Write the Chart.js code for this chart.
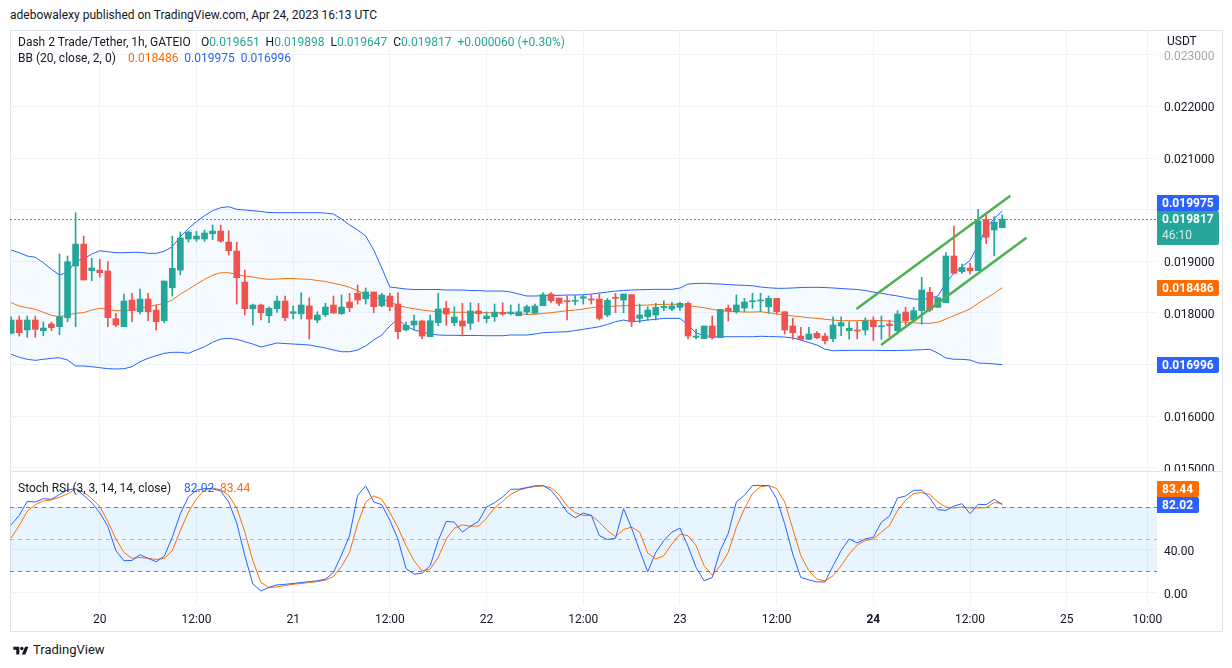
<!DOCTYPE html>
<html>
<head>
<meta charset="utf-8">
<title>Dash 2 Trade/Tether, 1h, GATEIO</title>
<script src="https://cdn.jsdelivr.net/npm/chart.js@4.4.1/dist/chart.umd.min.js"></script>
<style>
  body { margin: 0; background: #fff; font-family: Roboto, "Noto Sans", sans-serif; color: #131722; }
  #page { position: relative; width: 1232px; height: 668px; overflow: hidden; }
  .abs { position: absolute; white-space: nowrap; font-size: 12px; line-height: 16px; z-index: 2; }
  #frame { position: absolute; left: 10px; top: 30px; width: 1213px; height: 602px; border: 1px solid #e0e3eb; box-sizing: border-box; }
  #sep { position: absolute; left: 10px; top: 471px; width: 1213px; height: 1px; background: #e0e3eb; z-index: 1; }
  canvas { position: absolute; left: 10px; }
  .up { color: #26a69a; }
  .blue { color: #2962ff; }
  .orange { color: #ff6d00; }
</style>
</head>
<body>
<div id="page">
  <div class="abs" style="left:10px;top:7px">adebowalexy published on TradingView.com, Apr 24, 2023 16:13 UTC</div>
  <div id="frame"></div>
  <canvas id="main" width="1212" height="442" style="top:30px"></canvas>
  <canvas id="stoch" width="1212" height="159" style="top:472px"></canvas>
  <div id="sep"></div>

  <div class="abs" style="left:18px;top:34px">Dash 2 Trade/Tether, 1h, GATEIO</div>
  <div class="abs" id="ohlc" style="left:201px;top:34px"></div>
  <div class="abs" style="left:18px;top:50px">BB (20, close, 2, 0)</div>
  <div class="abs" id="bbLegend" style="left:128px;top:50px"></div>
  <div class="abs" style="left:1167px;top:33px">USDT</div>
  <div class="abs" style="left:18px;top:480px">Stoch RSI (3, 3, 14, 14, close)</div>
  <div class="abs" id="stochLegend" style="left:184px;top:480px"></div>

  <svg class="abs" style="left:12px;top:645px" width="18" height="12" viewBox="0 0 36 28">
    <path d="M14 22H7V11H0V4h14v18zM28 22h-8l7.5-18h8L28 22z" fill="#131722"/>
    <circle cx="20" cy="8" r="4" fill="#131722"/>
  </svg>
  <div class="abs" style="left:33px;top:642px;font-size:13px">TradingView</div>
</div>

<script>
// hourly candles, Apr 19 13:00 .. Apr 24 16:00 UTC (hours counted from Apr 20 00:00)
const firstHour = -11;

const open = [
  .017603, .017860, .017667, .017860, .017653, .017783, .017731, .017905, .018907, .019333,
  .018816, .018829, .018810, .017886, .017731, .018248, .018021, .018267, .018054, .017847,
  .018486, .018829, .019430, .019430, .019430, .019533, .019585, .019372, .019198, .018597,
  .018079, .018151, .017944, .018079, .018229, .017990, .017983, .018132, .017860, .017963,
  .018151, .017983, .018209, .018378, .018273, .018403, .018137, .018326, .018170, .017667,
  .017764, .017841, .017537, .017808, .018087, .017808, .017841, .017796, .018035, .017886,
  .017924, .018010, .017990, .017944, .018015, .017990, .018137, .018364, .018287, .018234,
  .018223, .018281, .018267, .018267, .017957, .018300, .018248, .018351, .017893, .017924,
  .017957, .018099, .018074, .018106, .018184, .017525, .017498, .017744, .017517, .018087,
  .018021, .018093, .018215, .018229, .018118, .018281, .018021, .017744, .017550, .017486,
  .017603, .017550, .017498, .017744, .017653, .017667, .017667, .017847, .017731, .017783,
  .017653, .018015, .017860, .018041, .018397, .018106, .018196, .019101, .018797, .018868,
  .018816, .019812, .019605, .019651
];
const high = [
  .017924, .017938, .017938, .017938, .017822, .017822, .019139, .019101, .019940, .019488,
  .019056, .019037, .018990, .017990, .018364, .018378, .018461, .018378, .018151, .018616,
  .019488, .019566, .019585, .019579, .019605, .019702, .019702, .019591, .019366, .018829,
  .018170, .018170, .018118, .018326, .018326, .018132, .018390, .018293, .018021, .018184,
  .018326, .018345, .018378, .018539, .018481, .018403, .018378, .018378, .018390, .017822,
  .017957, .017860, .017957, .018378, .018223, .018118, .018184, .018196, .018184, .018015,
  .018170, .018196, .018151, .018170, .018151, .018170, .018390, .018390, .018287, .018331,
  .018339, .018351, .018351, .018364, .018281, .018378, .018364, .018351, .018170, .018118,
  .018184, .018234, .018203, .018203, .018215, .017680, .017744, .017938, .018068, .018151,
  .018345, .018281, .018378, .018378, .018326, .018281, .018021, .017893, .017719, .017719,
  .017634, .017603, .017924, .017924, .017828, .017828, .017905, .017924, .017938, .017860,
  .018041, .018106, .018106, .018688, .018494, .018293, .019165, .019682, .018946, .018959,
  .020006, .019895, .019862, .019898
];
const low = [
  .017589, .017550, .017525, .017525, .017556, .017653, .017575, .017828, .017731, .018636,
  .018622, .018688, .017731, .017731, .017731, .017828, .017977, .017847, .017667, .017808,
  .018326, .018733, .019372, .019386, .019386, .019417, .019366, .019120, .018170, .017957,
  .017764, .017860, .017808, .018010, .017847, .017880, .017880, .017492, .017808, .017924,
  .017990, .017971, .018021, .018170, .018170, .018002, .018118, .018041, .017492, .017647,
  .017667, .017498, .017537, .017750, .017758, .017750, .017550, .017680, .017828, .017808,
  .017835, .017952, .017957, .017944, .017963, .017990, .018137, .018196, .018137, .017860,
  .018151, .018170, .018170, .017860, .017924, .018002, .018002, .017731, .017808, .017860,
  .017860, .018041, .018041, .018041, .017492, .017492, .017498, .017492, .017517, .017841,
  .017990, .018021, .018087, .018021, .017990, .017977, .017589, .017486, .017473, .017486,
  .017498, .017395, .017440, .017556, .017492, .017492, .017570, .017459, .017486, .017537,
  .017589, .017764, .017847, .017783, .018021, .018106, .018196, .018765, .018765, .018752,
  .018816, .019347, .019107, .019647
];
const close = [
  .017860, .017614, .017860, .017680, .017705, .017711, .017924, .018990, .019333, .018636,
  .018868, .018777, .017905, .017764, .018229, .018041, .018267, .018021, .017828, .018616,
  .018862, .019450, .019566, .019488, .019547, .019585, .019391, .019203, .018680, .018079,
  .018151, .018002, .018087, .018229, .017905, .018021, .018151, .017880, .017957, .018112,
  .017996, .018112, .018099, .018248, .018403, .018118, .018345, .018118, .017634, .017758,
  .017841, .017550, .017847, .018074, .017977, .017919, .017744, .018035, .017983, .017938,
  .018015, .017977, .018015, .018021, .018118, .018132, .018351, .018234, .018184, .018215,
  .018242, .018312, .018248, .017893, .018242, .018281, .018364, .017828, .017957, .018054,
  .018106, .018126, .018132, .018184, .017550, .017550, .017744, .017517, .018068, .018035,
  .018151, .018209, .018234, .018248, .018281, .018021, .017667, .017614, .017486, .017589,
  .017517, .017459, .017764, .017808, .017700, .017647, .017841, .017731, .017744, .017750,
  .017977, .017847, .018041, .018442, .018054, .018293, .019101, .018765, .018882, .018816,
  .019785, .019463, .019757, .019817
];

// Bollinger Bands (20, close, 2)
const bbUpper = [
  .019217, .019165, .019101, .019076, .018971, .018843, .018733, .018785, .019004, .019043,
  .019139, .019203, .019184, .019165, .019165, .019172, .019172, .019153, .019153, .019192,
  .019281, .019475, .019637, .019765, .019882, .019979, .020037, .020056, .020006, .019992,
  .019979, .019963, .019944, .019940, .019940, .019940, .019940, .019940, .019940, .019934,
  .019915, .019818, .019702, .019605, .019488, .019217, .018868, .018500, .018481, .018461,
  .018452, .018452, .018452, .018452, .018442, .018442, .018442, .018432, .018432, .018422,
  .018422, .018422, .018403, .018364, .018326, .018326, .018331, .018335, .018339, .018345,
  .018345, .018351, .018364, .018384, .018403, .018422, .018432, .018442, .018448, .018452,
  .018455, .018455, .018455, .018481, .018558, .018568, .018572, .018564, .018558, .018548,
  .018539, .018533, .018525, .018500, .018486, .018475, .018475, .018481, .018490, .018494,
  .018494, .018490, .018481, .018471, .018461, .018452, .018432, .018403, .018378, .018351,
  .018326, .018296, .018267, .018262, .018281, .018326, .018577, .018771, .018897, .019014,
  .019314, .019643, .019828, .019975
];
const bbBasis = [
  .018196, .018132, .018099, .018068, .018010, .017952, .017924, .017957, .017990, .018002,
  .018054, .018087, .018068, .018041, .018041, .018054, .018087, .018118, .018151, .018184,
  .018248, .018364, .018455, .018552, .018649, .018727, .018777, .018777, .018746, .018713,
  .018694, .018665, .018649, .018655, .018665, .018665, .018655, .018649, .018626, .018607,
  .018572, .018539, .018494, .018428, .018359, .018312, .018262, .018209, .018145, .018106,
  .018079, .018054, .018035, .018021, .018015, .018010, .018010, .018010, .018010, .018002,
  .018002, .018002, .017990, .017977, .017971, .017971, .017990, .018002, .018021, .018041,
  .018054, .018074, .018099, .018118, .018118, .018132, .018137, .018145, .018145, .018151,
  .018157, .018165, .018165, .018165, .018137, .018118, .018099, .018068, .018041, .018029,
  .018021, .018015, .018015, .018021, .018002, .017977, .017957, .017938, .017924, .017905,
  .017893, .017874, .017860, .017847, .017847, .017847, .017855, .017855, .017847, .017841,
  .017828, .017816, .017808, .017796, .017796, .017816, .017880, .017944, .018010, .018074,
  .018184, .018281, .018378, .018486
];
const bbLower = [
  .017196, .017138, .017099, .017079, .017099, .017118, .017130, .017085, .016969, .016969,
  .016955, .016936, .016917, .016911, .016917, .016955, .017052, .017118, .017169, .017215,
  .017234, .017234, .017215, .017279, .017343, .017428, .017492, .017506, .017486, .017440,
  .017395, .017337, .017376, .017415, .017405, .017395, .017386, .017376, .017347, .017318,
  .017279, .017246, .017246, .017279, .017357, .017473, .017570, .017744, .017880, .017744,
  .017667, .017628, .017589, .017570, .017564, .017564, .017560, .017560, .017560, .017556,
  .017556, .017556, .017570, .017570, .017570, .017589, .017614, .017622, .017628, .017634,
  .017657, .017680, .017705, .017731, .017773, .017828, .017860, .017828, .017841, .017860,
  .017874, .017893, .017893, .017893, .017764, .017608, .017560, .017537, .017537, .017537,
  .017537, .017537, .017537, .017545, .017541, .017537, .017531, .017512, .017473, .017424,
  .017376, .017293, .017265, .017269, .017273, .017273, .017273, .017273, .017269, .017269,
  .017269, .017273, .017279, .017285, .017293, .017221, .017124, .017099, .017099, .017085,
  .017027, .017021, .017008, .016996
];

// Stoch RSI (3, 3, 14, 14, close)
const stochK = [
  63.4, 72.2, 85.3, 84.7, 87.8, 87.2, 91.6, 95.9, 97.2, 90.9,
  84.1, 74.7, 61.9, 39.4, 30.0, 30.3, 35.6, 32.2, 29.1, 34.1,
  51.9, 73.8, 89.4, 95.6, 97.2, 96.9, 95.0, 84.7, 65.0, 34.7,
  8.4, 1.9, 5.3, 7.5, 8.1, 8.8, 9.7, 10.6, 11.3, 12.8,
  19.1, 35.3, 53.4, 90.9, 99.7, 84.7, 82.2, 67.5, 50.3, 22.8,
  17.5, 18.4, 25.3, 48.8, 66.6, 65.9, 56.6, 62.2, 66.6, 80.0,
  84.1, 89.4, 96.6, 96.6, 98.1, 99.7, 100, 95.6, 86.3, 75.3,
  70.0, 74.4, 72.2, 53.4, 49.7, 51.0, 78.4, 60.3, 39.4, 19.7,
  37.8, 48.8, 56.6, 60.3, 43.4, 23.8, 11.3, 14.4, 39.4, 55.6,
  84.7, 90.9, 100, 100, 100, 87.8, 64.4, 36.2, 14.4, 12.2,
  10.3, 10.3, 25.3, 39.4, 50.3, 46.6, 50.3, 51.9, 65.9, 71.6,
  88.4, 90.3, 95.6, 95.6, 88.4, 77.5, 76.9, 80.9, 83.1, 73.8,
  82.5, 82.2, 87.2, 82.02
];
const stochD = [
  51.2, 62.8, 76.0, 82.2, 85.6, 86.6, 89.1, 92.2, 96.6, 94.1,
  87.8, 80.6, 66.6, 50.3, 37.8, 32.2, 33.1, 32.2, 31.2, 32.2,
  39.4, 58.1, 75.3, 87.8, 95.9, 97.8, 95.9, 90.9, 79.1, 56.6,
  30.0, 9.7, 5.0, 5.6, 6.9, 8.1, 8.8, 9.7, 10.6, 11.9,
  15.3, 24.7, 37.8, 64.4, 84.7, 90.3, 87.2, 74.7, 61.2, 44.1,
  30.0, 20.6, 22.2, 33.1, 50.3, 60.3, 63.4, 62.2, 62.2, 69.7,
  79.1, 85.3, 91.9, 95.6, 97.8, 99.1, 99.7, 97.8, 91.6, 80.9,
  74.7, 72.2, 72.2, 65.9, 58.1, 52.5, 59.1, 61.3, 56.6, 37.2,
  31.6, 34.7, 45.6, 54.7, 53.4, 44.1, 25.3, 16.6, 25.3, 37.8,
  61.2, 78.4, 92.5, 98.8, 100, 97.2, 84.7, 59.7, 34.7, 20.6,
  12.8, 11.3, 16.0, 25.3, 36.2, 44.7, 48.8, 50.3, 56.6, 62.8,
  76.9, 86.3, 92.5, 93.4, 91.6, 84.7, 80.0, 79.1, 80.0, 79.1,
  79.1, 79.4, 84.1, 83.44
];
const stochLevels = [80, 50, 20];

// hand-drawn channel (hour, price)
const channelTop = [{ x: 93.9, y: 0.018074 }, { x: 113.0, y: 0.020269 }];
const channelBottom = [{ x: 96.95, y: 0.017376 }, { x: 115.0, y: 0.019455 }];

// time axis
const tickHours = [0, 12, 24, 36, 48, 60, 72, 84, 96, 108, 120, 130];
const tickLabels = ['20', '12:00', '21', '12:00', '22', '12:00', '23', '12:00', '24', '12:00', '25', '10:00'];
const priceTicks = [0.015, 0.016, 0.017, 0.018, 0.019, 0.020, 0.021, 0.022, 0.023];
const stochTicks = [0, 40, 80];
const countdown = '46:10';

const up = '#26a69a', down = '#ef5350', blue = '#2962ff', orange = '#ff6d00', grid = '#f0f3fa';
const hourMin = -11.14, hourMax = 131.2;
const last = close.length - 1;
const hours = close.map((_, i) => firstHour + i);

Chart.defaults.font.family = 'Roboto, "Noto Sans", sans-serif';
Chart.defaults.font.size = 12;
Chart.defaults.color = '#131722';

// legends
const chg = close[last] - close[last - 1];
document.getElementById('ohlc').innerHTML =
  'O<span class="up">' + open[last].toFixed(6) + '</span>&nbsp;&nbsp;' +
  'H<span class="up">' + high[last].toFixed(6) + '</span>&nbsp;&nbsp;' +
  'L<span class="up">' + low[last].toFixed(6) + '</span>&nbsp;&nbsp;' +
  'C<span class="up">' + close[last].toFixed(6) + '</span>&nbsp;&nbsp;' +
  '<span class="up">+' + chg.toFixed(6) + ' (+' + (chg / close[last - 1] * 100).toFixed(2) + '%)</span>';
document.getElementById('bbLegend').innerHTML =
  '<span class="orange">' + bbBasis[last].toFixed(6) + '</span>&nbsp;&nbsp;' +
  '<span class="blue">' + bbUpper[last].toFixed(6) + '</span>&nbsp;&nbsp;' +
  '<span class="blue">' + bbLower[last].toFixed(6) + '</span>';
document.getElementById('stochLegend').innerHTML =
  '<span class="blue">' + stochK[last].toFixed(2) + '</span>&nbsp;&nbsp;' +
  '<span class="orange">' + stochD[last].toFixed(2) + '</span>';

function fitScale(w, h) {
  return s => {
    if (w != null) s.width = w;
    if (h != null) s.height = h;
    s.paddingTop = s.paddingBottom = s.paddingLeft = s.paddingRight = 0;
  };
}
function setTicks(values) {
  return s => { s.ticks = values.map(v => ({ value: v })); };
}
const candleColor = ctx => close[ctx.dataIndex] >= open[ctx.dataIndex] ? up : down;

// axis tags (price labels on the right scale)
function tagPlugin(id, digits, getTags) {
  return {
    id,
    afterDraw(chart) {
      const { ctx, chartArea: a, scales: { y } } = chart;
      const tags = getTags().map(t => ({ ...t, py: y.getPixelForValue(t.value) }))
        .sort((p, q) => q.py - p.py);
      let limit = Infinity;
      ctx.save();
      ctx.textBaseline = 'middle';
      for (const t of tags) {
        const h = t.sub ? 34 : 16;
        let top = Math.round(t.py) - 8;
        if (top + h > limit) top = limit - h;
        limit = top;
        const label = t.value.toFixed(digits);
        ctx.font = 'bold 12px Roboto';
        const w = Math.ceil(ctx.measureText(label).width) + 10;
        ctx.fillStyle = t.color;
        ctx.beginPath();
        ctx.roundRect(a.right, top, w, h, [0, 2, 2, 0]);
        ctx.fill();
        ctx.fillStyle = '#fff';
        ctx.fillText(label, a.right + 5, top + 8.5);
        if (t.sub) {
          ctx.font = '12px Roboto';
          ctx.fillStyle = 'rgba(255,255,255,0.8)';
          ctx.fillText(t.sub, a.right + 5, top + 25);
        }
      }
      ctx.restore();
    }
  };
}

const priceLine = {
  id: 'priceLine',
  beforeDatasetsDraw(chart) {
    const { ctx, chartArea: a, scales: { y } } = chart;
    const py = Math.round(y.getPixelForValue(close[last])) + 0.5;
    ctx.save();
    ctx.strokeStyle = up;
    ctx.lineWidth = 1;
    ctx.setLineDash([2, 2]);
    ctx.beginPath();
    ctx.moveTo(a.left, py);
    ctx.lineTo(a.right, py);
    ctx.stroke();
    ctx.restore();
  }
};

// Price chart
new Chart(document.getElementById('main'), {
  type: 'bar',
  data: {
    datasets: [
      {
        type: 'line', label: 'Upper', order: 3,
        data: hours.map((h, i) => ({ x: h, y: bbUpper[i] })),
        borderColor: blue, borderWidth: 1, pointRadius: 0,
        fill: 2, backgroundColor: 'rgba(33,150,243,0.05)'
      },
      {
        type: 'line', label: 'Basis', order: 3,
        data: hours.map((h, i) => ({ x: h, y: bbBasis[i] })),
        borderColor: orange, borderWidth: 1, pointRadius: 0, fill: false
      },
      {
        type: 'line', label: 'Lower', order: 3,
        data: hours.map((h, i) => ({ x: h, y: bbLower[i] })),
        borderColor: blue, borderWidth: 1, pointRadius: 0, fill: false
      },
      {
        label: 'Wick', order: 2, grouped: false,
        data: hours.map((h, i) => ({ x: h, y: [low[i], high[i]] })),
        backgroundColor: candleColor, barThickness: 1
      },
      {
        label: 'Body', order: 1, grouped: false,
        data: hours.map((h, i) => ({ x: h, y: [open[i], close[i]] })),
        backgroundColor: candleColor, barThickness: 6, minBarLength: 1
      },
      {
        type: 'line', label: 'Channel top', order: 0,
        data: channelTop, borderColor: '#4caf50', borderWidth: 2.5, pointRadius: 0
      },
      {
        type: 'line', label: 'Channel bottom', order: 0,
        data: channelBottom, borderColor: '#4caf50', borderWidth: 2.5, pointRadius: 0
      }
    ]
  },
  options: {
    responsive: false,
    animation: false,
    devicePixelRatio: 1,
    layout: { padding: 0 },
    plugins: { legend: { display: false }, tooltip: { enabled: false } },
    scales: {
      x: {
        type: 'linear', min: hourMin, max: hourMax, offset: false,
        afterBuildTicks: setTicks(tickHours), afterFit: fitScale(null, 0),
        ticks: { display: false },
        grid: { color: grid, drawTicks: false, offset: false },
        border: { display: false }
      },
      y: {
        position: 'right',
        min: 0.014915, max: 0.023481,
        afterBuildTicks: setTicks(priceTicks), afterFit: fitScale(65, null),
        ticks: {
          padding: 7, labelOffset: 2,
          callback: v => v.toFixed(6),
          color: ctx => ctx.tick && ctx.tick.value === priceTicks[priceTicks.length - 1] ? 'rgba(19,23,34,0.4)' : '#131722'
        },
        grid: { color: grid, drawTicks: false },
        border: { display: false }
      }
    }
  },
  plugins: [priceLine, tagPlugin('priceTags', 6, () => [
    { value: bbLower[last], color: blue },
    { value: bbBasis[last], color: orange },
    { value: close[last], color: up, sub: countdown },
    { value: bbUpper[last], color: blue }
  ])]
});

const stochBands = {
  id: 'stochBands',
  beforeDatasetsDraw(chart) {
    const { ctx, chartArea: a, scales: { y } } = chart;
    const hi = y.getPixelForValue(Math.max(...stochLevels));
    const lo = y.getPixelForValue(Math.min(...stochLevels));
    ctx.save();
    ctx.fillStyle = 'rgba(33,150,243,0.1)';
    ctx.fillRect(a.left, hi, a.right - a.left, lo - hi);
    ctx.lineWidth = 1;
    ctx.setLineDash([4, 4]);
    stochLevels.forEach((lv, i) => {
      const py = Math.round(y.getPixelForValue(lv)) + 0.5;
      ctx.strokeStyle = i === 1 ? 'rgba(120,123,134,0.5)' : '#787b86';
      ctx.beginPath();
      ctx.moveTo(a.left, py);
      ctx.lineTo(a.right, py);
      ctx.stroke();
    });
    ctx.restore();
  }
};

// Stoch RSI chart
new Chart(document.getElementById('stoch'), {
  type: 'line',
  data: {
    datasets: [
      {
        label: 'K', data: hours.map((h, i) => ({ x: h, y: stochK[i] })),
        borderColor: blue, borderWidth: 1, pointRadius: 0
      },
      {
        label: 'D', data: hours.map((h, i) => ({ x: h, y: stochD[i] })),
        borderColor: orange, borderWidth: 1, pointRadius: 0
      }
    ]
  },
  options: {
    responsive: false,
    animation: false,
    devicePixelRatio: 1,
    layout: { padding: 0 },
    plugins: { legend: { display: false }, tooltip: { enabled: false } },
    scales: {
      x: {
        type: 'linear', min: hourMin, max: hourMax,
        afterBuildTicks: setTicks(tickHours), afterFit: fitScale(null, 26),
        ticks: {
          padding: 8, autoSkip: false, maxRotation: 0,
          callback: v => tickLabels[tickHours.indexOf(v)],
          font: ctx => ({ size: 12, weight: ctx.tick && ctx.tick.label === '24' ? 'bold' : 'normal' })
        },
        grid: { color: grid, drawTicks: false },
        border: { display: false }
      },
      y: {
        position: 'right',
        min: -11.2, max: 112.6,
        afterBuildTicks: setTicks(stochTicks), afterFit: fitScale(65, null),
        ticks: { padding: 7, labelOffset: 2, callback: v => v.toFixed(2) },
        grid: { color: grid, drawTicks: false },
        border: { display: false }
      }
    }
  },
  plugins: [stochBands, tagPlugin('stochTags', 2, () => [
    { value: stochK[last], color: blue },
    { value: stochD[last], color: orange }
  ])]
});
</script>
</body>
</html>
